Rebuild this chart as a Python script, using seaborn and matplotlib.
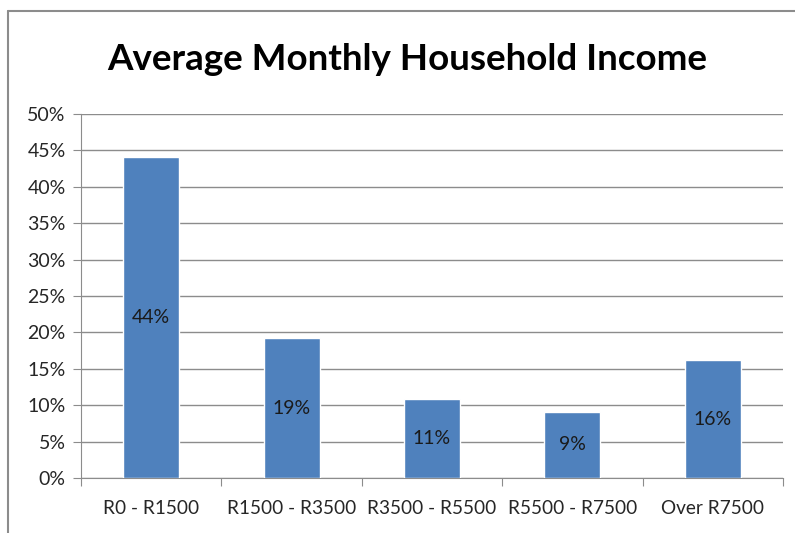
import pandas as pd
import seaborn as sns
import matplotlib.pyplot as plt
from matplotlib.lines import Line2D

categories = ['R0 - R1500', 'R1500 - R3500', 'R3500 - R5500', 'R5500 - R7500', 'Over R7500']
shares = [44.1, 19.2, 10.8, 9.1, 16.2]
bar_labels = ['44%', '19%', '11%', '9%', '16%']
yticks = [0, 5, 10, 15, 20, 25, 30, 35, 40, 45, 50]
ytick_labels = ['%d%%' % t for t in yticks]

df = pd.DataFrame({'income': categories, 'share': shares})

sns.set_style('white')
plt.rcParams['font.family'] = ['Lato', 'DejaVu Sans']

fig = plt.figure(figsize=(7.95, 5.33), dpi=100)
ax = fig.add_axes([81 / 795, 1 - 478 / 533, (783 - 81) / 795, (478 - 114) / 533])

sns.barplot(data=df, x='income', y='share', color='#4F81BD', width=0.4,
            saturation=1, ax=ax, zorder=3)

for i, (v, lab) in enumerate(zip(shares, bar_labels)):
    ax.text(i, v / 2, lab, ha='center', va='center', fontsize=14, color='#1a1a1a', zorder=4)

ax.set_ylim(0, 50)
ax.set_xlim(-0.5, 4.5)
ax.set_yticks(yticks)
ax.set_yticklabels(ytick_labels, fontsize=14, color='#262626')
ax.set_xticks([-0.5, 0.5, 1.5, 2.5, 3.5, 4.5])
ax.set_xticklabels([])
ax.set_xticks(range(5), minor=True)
ax.set_xticklabels(categories, minor=True, fontsize=13.7, color='#262626')
ax.tick_params(axis='x', which='minor', length=0, pad=16)
ax.tick_params(axis='x', which='major', length=6, color='#8c8c8c', direction='out', bottom=True)
ax.tick_params(axis='y', length=6, color='#8c8c8c', direction='out', left=True, pad=5)
ax.grid(axis='y', color='#8c8c8c', linewidth=1, zorder=0)
ax.set_xlabel('')
ax.set_ylabel('')
for side in ['top', 'right']:
    ax.spines[side].set_visible(False)
ax.spines['left'].set_color('#8c8c8c')
ax.spines['bottom'].set_color('#8c8c8c')

fig.text(0.512, 1 - 60 / 533, 'Average Monthly Household Income', ha='center', va='center',
         fontsize=26.5, fontweight='bold', color='black')

# outer chart border (left and top edges visible)
fig.add_artist(Line2D([8 / 795, 8 / 795], [0, 1 - 11 / 533], color='#8c8c8c', linewidth=1.5))
fig.add_artist(Line2D([8 / 795, 1], [1 - 11 / 533, 1 - 11 / 533], color='#8c8c8c', linewidth=1.5))

fig.savefig('out.png', dpi=100)
